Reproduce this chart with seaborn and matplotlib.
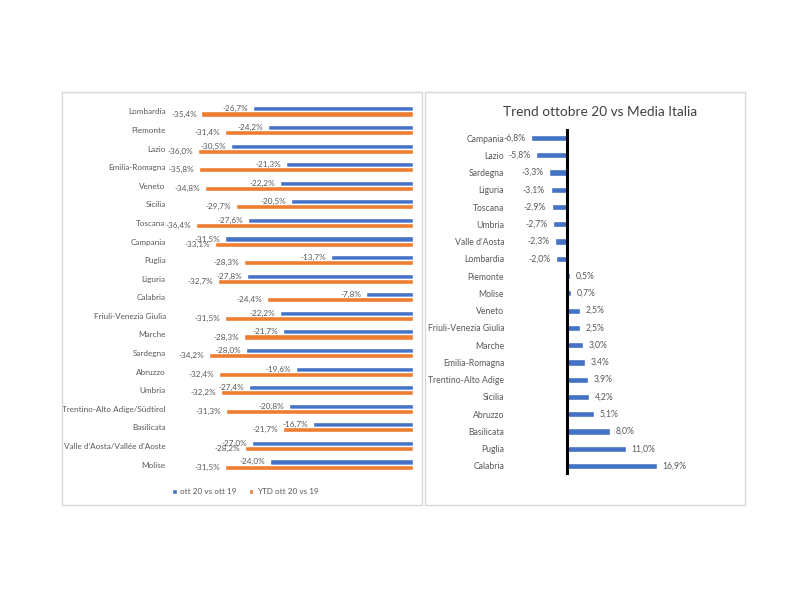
import numpy as np
import pandas as pd
import matplotlib
matplotlib.use("Agg")
import matplotlib.pyplot as plt
from matplotlib.patches import Rectangle
import seaborn as sns

# Left chart data: October and YTD change vs 2019 (%)
regioni = ["Lombardia", "Piemonte", "Lazio", "Emilia-Romagna", "Veneto", "Sicilia",
           "Toscana", "Campania", "Puglia", "Liguria", "Calabria",
           "Friuli-Venezia Giulia", "Marche", "Sardegna", "Abruzzo", "Umbria",
           "Trentino-Alto Adige/Südtirol", "Basilicata",
           "Valle d'Aosta/Vallée d'Aoste", "Molise"]
ott_20_vs_19 = [-26.7, -24.2, -30.5, -21.3, -22.2, -20.5, -27.6, -31.5, -13.7, -27.8,
                -7.8, -22.2, -21.7, -28.0, -19.6, -27.4, -20.8, -16.7, -27.0, -24.0]
ytd_20_vs_19 = [-35.4, -31.4, -36.0, -35.8, -34.8, -29.7, -36.4, -33.1, -28.3, -32.7,
                -24.4, -31.5, -28.3, -34.2, -32.4, -32.2, -31.3, -21.7, -28.2, -31.5]
serie = ["ott 20 vs ott 19", "YTD ott 20 vs 19"]

# Right chart data: October trend vs Italian average (%)
regioni_trend = ["Campania", "Lazio", "Sardegna", "Liguria", "Toscana", "Umbria",
                 "Valle d'Aosta", "Lombardia", "Piemonte", "Molise", "Veneto",
                 "Friuli-Venezia Giulia", "Marche", "Emilia-Romagna",
                 "Trentino-Alto Adige", "Sicilia", "Abruzzo", "Basilicata",
                 "Puglia", "Calabria"]
trend_vs_media = [-6.8, -5.8, -3.3, -3.1, -2.9, -2.7, -2.3, -2.0, 0.5, 0.7, 2.5, 2.5,
                  3.0, 3.4, 3.9, 4.2, 5.1, 8.0, 11.0, 16.9]

BLUE = "#4472C4"
ORANGE = "#ED7D31"
GRAY = "#595959"

sns.set_style("white")
plt.rcParams["font.family"] = ["Lato", "DejaVu Sans"]


def pct(v):
    return f"{v:.1f}%".replace(".", ",")


fig = plt.figure(figsize=(8, 6), dpi=100)
fig.patch.set_facecolor("white")

# panel frames
for x0, x1 in [(62, 422), (425, 745)]:
    fig.patches.append(Rectangle((x0 / 800, 1 - 505 / 600), (x1 - x0) / 800, 413 / 600,
                                 transform=fig.transFigure, fill=False,
                                 edgecolor="#D9D9D9", linewidth=1))

# ---- Left chart ----
df = pd.DataFrame({
    "regione": regioni * 2,
    "valore": ott_20_vs_19 + ytd_20_vs_19,
    "serie": [serie[0]] * len(regioni) + [serie[1]] * len(regioni),
})

ax1 = fig.add_axes([174 / 800, 1 - 473.8 / 600, 239 / 800, 371.6 / 600])
sns.barplot(data=df, x="valore", y="regione", hue="serie", order=regioni,
            hue_order=serie, palette=[BLUE, ORANGE], saturation=1,
            width=0.55, errorbar=None, orient="h", ax=ax1)
ax1.set_xlim(-40, 0)
ax1.set_ylim(19.5, -0.5)
for cont, vals in zip(ax1.containers, [ott_20_vs_19, ytd_20_vs_19]):
    ax1.bar_label(cont, labels=[pct(v) for v in vals], padding=3.5,
                  fontsize=5.9, color=GRAY)
ax1.set_xlabel("")
ax1.set_ylabel("")
ax1.set_xticks([])
ax1.tick_params(axis="y", length=0, pad=6, labelsize=5.9, labelcolor=GRAY)
for s in ax1.spines.values():
    s.set_visible(False)
ax1.patch.set_alpha(0)
handles = list(ax1.containers)
ax1.legend([h[0] for h in handles], serie, loc="center",
           bbox_to_anchor=(245 / 800, 1 - 492 / 600), bbox_transform=fig.transFigure,
           ncol=2, frameon=False, fontsize=5.9, labelcolor=GRAY,
           handlelength=0.6, handleheight=0.6, handletextpad=0.4, columnspacing=1.5)

# ---- Right chart ----
ax2 = fig.add_axes([508.4 / 800, 1 - 474.6 / 600, 223.9 / 800, 345.2 / 600])
sns.barplot(x=trend_vs_media, y=regioni_trend, order=regioni_trend, color=BLUE,
            saturation=1, width=0.36, errorbar=None, orient="h", ax=ax2)
ax2.set_xlim(-11, 31)
ax2.set_ylim(19.5, -0.5)
ax2.axvline(0, color="black", linewidth=2.2)
ax2.bar_label(ax2.containers[0], labels=[pct(v) for v in trend_vs_media], padding=4,
              fontsize=6.2, color=GRAY)
ax2.set_xticks([])
ax2.tick_params(axis="y", length=0, pad=3, labelsize=6.2, labelcolor=GRAY)
for s in ax2.spines.values():
    s.set_visible(False)
ax2.patch.set_alpha(0)
fig.text(600 / 800, 1 - 112 / 600, "Trend ottobre 20 vs Media Italia",
         ha="center", va="center", fontsize=9.8, color="#404040")

fig.savefig("out.png", dpi=100)
